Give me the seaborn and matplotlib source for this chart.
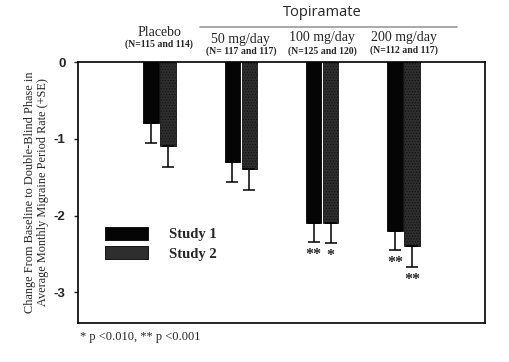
import matplotlib
matplotlib.use("Agg")
import matplotlib.pyplot as plt
import matplotlib.transforms as mtransforms
import seaborn as sns
import pandas as pd

groups = ["Placebo", "50 mg/day", "100 mg/day", "200 mg/day"]
n_labels = ["(N=115 and 114)", "(N= 117 and 117)", "(N=125 and 120)", "(N=112 and 117)"]
studies = ["Study 1", "Study 2"]
study1 = [-0.8, -1.3, -2.1, -2.2]
study2 = [-1.1, -1.4, -2.1, -2.4]
se1 = [0.25, 0.26, 0.24, 0.25]
se2 = [0.27, 0.27, 0.26, 0.27]
stars1 = ["", "", "**", "**"]
stars2 = ["", "", "*", "**"]
yticks = [0, -1, -2, -3]

df = pd.DataFrame({
    "dose": groups * 2,
    "change": study1 + study2,
    "study": [studies[0]] * 4 + [studies[1]] * 4,
})

sns.set_style("white")
plt.rcParams["hatch.color"] = "#555555"
plt.rcParams["hatch.linewidth"] = 0.5
fig = plt.figure(figsize=(5.09, 3.62), dpi=100)
ax = fig.add_axes([0.1532, 0.1077, 0.7996, 0.721])

sns.barplot(data=df, x="dose", y="change", hue="study", order=groups,
            hue_order=studies, palette=["#050505", "#2e2e2e"],
            width=0.42, gap=0.1, errorbar=None, ax=ax, saturation=1,
            edgecolor="#000000", linewidth=0.6)

for p in ax.containers[1]:
    p.set_hatch("......")
    p.set_edgecolor("#111111")

serif = ["Liberation Serif", "DejaVu Serif"]
for cont, vals, ses, stars in [(ax.containers[0], study1, se1, stars1),
                               (ax.containers[1], study2, se2, stars2)]:
    xs = [p.get_x() + p.get_width() / 2 for p in cont]
    ax.errorbar(xs, vals, yerr=[ses, [0] * 4], fmt="none", ecolor="black",
                elinewidth=1.1, capsize=4, capthick=1.1, zorder=3)
    for x, v, s, st in zip(xs, vals, ses, stars):
        if st:
            ax.text(x, v - s - 0.17, st, ha="center", va="center",
                    fontsize=11.5, family=serif, fontweight="bold")

ax.set_xlim(-1, 4)
ax.set_ylim(-3.4, 0)
ax.set_yticks(yticks)
ax.set_yticklabels([str(t) for t in yticks], fontsize=9.5, fontweight="bold",
                   family=["Liberation Sans", "DejaVu Sans"])
ax.set_xticks([])
ax.set_xlabel("")
ax.set_ylabel("Change From Baseline to Double-Blind Phase in\nAverage Monthly Migraine Period Rate (+SE)",
              fontsize=8.8, family=serif, labelpad=3, linespacing=1.15)
ax.tick_params(axis="y", left=True, length=3, width=1, direction="out", pad=6)
for sp in ax.spines.values():
    sp.set_visible(True)
    sp.set_color("black")
    sp.set_linewidth(1.2)

h, l = ax.get_legend_handles_labels()
ax.legend(h, l, loc="upper left", bbox_to_anchor=(0.033, 0.42), frameon=False,
          handlelength=3.0, handleheight=1.0, handletextpad=1.45, labelspacing=0.35,
          prop={"family": serif, "weight": "bold", "size": 10.5})

tr = mtransforms.blended_transform_factory(ax.transData, fig.transFigure)
label_y = [1 - 33 / 362, 1 - 40 / 362, 1 - 38 / 362, 1 - 37 / 362]
n_y = [1 - 44 / 362, 1 - 51 / 362, 1 - 51 / 362, 1 - 50 / 362]
for i, (g, n) in enumerate(zip(groups, n_labels)):
    ax.text(i, label_y[i], g, transform=tr, ha="center", va="center",
            fontsize=10, family=serif)
    ax.text(i, n_y[i], n, transform=tr, ha="center", va="center",
            fontsize=7, family=serif, fontweight="bold")

fig.text(322 / 509, 1 - 13 / 362, "Topiramate", ha="center", va="center",
         fontsize=10.5, family=["Open Sans", "DejaVu Sans"])
fig.add_artist(plt.Line2D([200 / 509, 457 / 509], [1 - 27 / 362, 1 - 27 / 362],
                          color="#999999", linewidth=1.2))

fig.text(80 / 509, 1 - 337 / 362, "* p <0.010, ** p <0.001", ha="left",
         va="center", fontsize=9, family=serif)

fig.savefig("out.png", dpi=100)
